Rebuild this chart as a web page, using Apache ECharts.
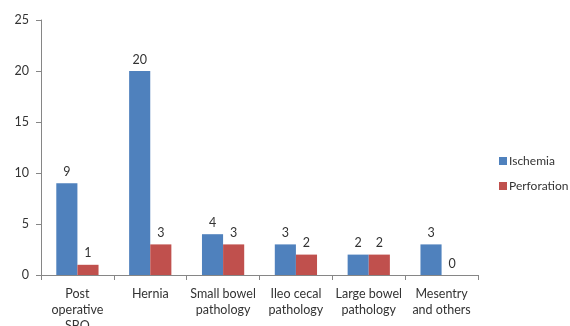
<!DOCTYPE html>
<html>
<head>
<meta charset="utf-8">
<script src="https://cdn.jsdelivr.net/npm/echarts@6/dist/echarts.min.js"></script>
<style>
  html, body { margin: 0; padding: 0; background: #fff; }
  #chart { width: 570px; height: 326px; }
</style>
</head>
<body>
<div id="chart"></div>
<script>
// Emergency surgery causes, split by ischemia vs perforation
const categories = ['Post\noperative\nSBO', 'Hernia', 'Small bowel\npathology', 'Ileo cecal\npathology', 'Large bowel\npathology', 'Mesentry\nand others'];
const ischemia = [9, 20, 4, 3, 2, 3];
const perforation = [1, 3, 3, 2, 2, 0];
const yTicks = { min: 0, max: 25, interval: 5 };

const textColor = '#333333';
const axisColor = '#868686';
const font = 'Lato';

const chart = echarts.init(document.getElementById('chart'), null, { renderer: 'canvas' });

const labelStyle = {
  show: true,
  position: 'top',
  distance: 5,
  color: textColor,
  fontFamily: font,
  fontSize: 12.5
};

chart.setOption({
  animation: false,
  grid: { left: 41, top: 20, right: 92, bottom: 51, containLabel: false, outerBoundsMode: 'none' },
  legend: {
    orient: 'vertical',
    left: 494,
    top: 150,
    itemWidth: 8,
    itemHeight: 8,
    itemGap: 13,
    icon: 'rect',
    textStyle: { color: textColor, fontFamily: font, fontSize: 12, padding: [0, 0, 0, -3] },
    data: ['Ischemia', 'Perforation']
  },
  xAxis: {
    type: 'category',
    data: categories,
    axisLine: { lineStyle: { color: axisColor } },
    axisTick: { show: true, inside: false, length: 5, lineStyle: { color: axisColor } },
    axisLabel: {
      color: textColor,
      fontFamily: font,
      fontSize: 12.5,
      lineHeight: 16,
      margin: 11,
      interval: 0
    }
  },
  yAxis: {
    type: 'value',
    min: yTicks.min,
    max: yTicks.max,
    interval: yTicks.interval,
    splitLine: { show: false },
    axisLine: { show: true, lineStyle: { color: axisColor } },
    axisTick: { show: true, inside: false, length: 5, lineStyle: { color: axisColor } },
    axisLabel: { color: textColor, fontFamily: font, fontSize: 12.5, margin: 12 }
  },
  series: [
    {
      name: 'Ischemia',
      type: 'bar',
      data: ischemia,
      barGap: '0%',
      barCategoryGap: '42%',
      itemStyle: { color: '#4F81BD' },
      label: labelStyle
    },
    {
      name: 'Perforation',
      type: 'bar',
      data: perforation,
      barGap: '0%',
      barCategoryGap: '42%',
      itemStyle: { color: '#C0504D' },
      label: labelStyle
    }
  ]
});
</script>
</body>
</html>
